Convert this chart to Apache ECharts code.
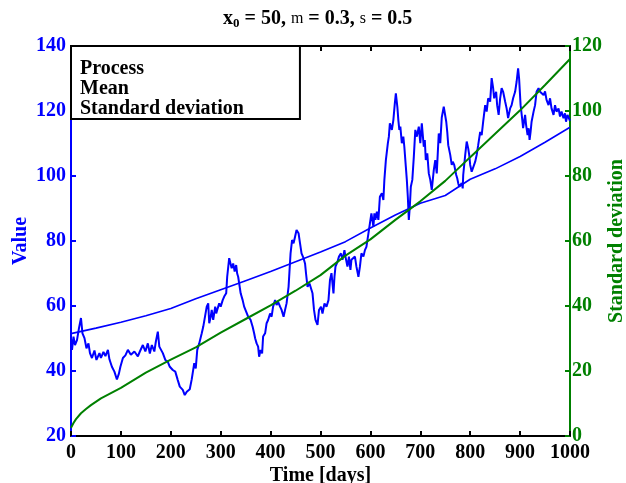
<!DOCTYPE html>
<html>
<head>
<meta charset="utf-8">
<title>Geometric Brownian motion</title>
<script src="https://cdn.jsdelivr.net/npm/echarts@6/dist/echarts.min.js"></script>
<style>
  html, body { margin: 0; padding: 0; background: #ffffff; }
  #chart { width: 626px; height: 483px; }
</style>
</head>
<body>
<div id="chart"></div>
<script>
// Simulated process path (day, value)
const processDays = [
  0, 2, 5, 8, 12, 16, 20, 23, 27, 31, 35, 38, 42, 47, 51, 57, 60, 65, 69, 74,
  77, 82, 87, 92, 96, 99, 104, 109, 114, 120, 127, 134, 138, 144, 149, 154, 158, 162, 167, 170,
  174, 177, 184, 189, 194, 198, 204, 209, 214, 218, 224, 228, 232, 238, 242, 247, 250, 253, 257, 262,
  265, 268, 272, 275, 277, 280, 282, 285, 289, 291, 293, 297, 300, 304, 307, 311, 313, 317, 320, 322,
  325, 328, 331, 333, 335, 337, 340, 344, 347, 351, 355, 360, 364, 367, 369, 372, 375, 377, 380, 383,
  385, 389, 392, 395, 399, 402, 405, 409, 412, 415, 419, 422, 426, 429, 432, 436, 438, 440, 443, 446,
  449, 452, 456, 459, 462, 466, 469, 471, 474, 478, 480, 484, 487, 490, 494, 497, 501, 504, 508, 512,
  516, 519, 522, 526, 528, 530, 534, 537, 541, 544, 548, 550, 554, 557, 560, 562, 566, 569, 572, 576,
  579, 582, 586, 589, 592, 596, 599, 602, 606, 608, 610, 613, 616, 619, 623, 626, 628, 631, 635, 637,
  639, 643, 646, 649, 651, 654, 656, 658, 660, 663, 666, 668, 671, 673, 675, 677, 679, 681, 684, 687,
  690, 693, 697, 700, 703, 707, 709, 711, 714, 717, 720, 723, 727, 730, 733, 737, 740, 743, 747, 750,
  752, 754, 756, 760, 763, 765, 768, 770, 772, 774, 776, 778, 781, 783, 785, 786, 790, 793, 796, 798,
  800, 803, 806, 810, 813, 816, 820, 823, 826, 830, 833, 836, 840, 843, 846, 848, 852, 854, 857, 860,
  863, 866, 870, 873, 876, 880, 883, 886, 890, 893, 896, 898, 901, 904, 906, 910, 912, 915, 917, 919,
  921, 923, 927, 930, 933, 937, 940, 943, 947, 950, 953, 957, 960, 963, 967, 970, 973, 977, 980, 983,
  987, 990, 992, 995, 1000
];
const processValues = [
  50.0, 46.5, 50.6, 48.0, 49.5, 53.2, 56.3, 51.6, 50.1, 47.0, 48.5, 45.5, 44.0, 46.3, 43.4, 45.5, 44.0, 45.9, 44.6, 46.5,
  43.6, 41.3, 39.8, 37.4, 39.2, 41.3, 44.0, 44.8, 46.5, 45.0, 46.0, 44.5, 46.0, 48.0, 46.0, 48.5, 45.4, 48.0, 46.0, 49.0,
  52.1, 47.5, 45.5, 43.4, 42.8, 41.3, 40.3, 39.8, 37.2, 35.2, 34.2, 32.6, 33.6, 34.4, 37.5, 42.4, 40.8, 46.5, 48.5, 51.6,
  53.6, 54.2, 59.8, 60.8, 54.7, 56.7, 58.8, 55.7, 59.8, 57.7, 58.8, 60.8, 59.8, 61.8, 62.9, 63.9, 69.0, 74.7, 74.2, 71.6,
  73.1, 70.6, 72.6, 70.0, 69.0, 67.0, 63.9, 61.8, 59.8, 58.3, 56.7, 55.7, 53.6, 51.6, 50.1, 48.5, 47.5, 44.4, 46.5, 45.4,
  50.6, 51.6, 54.7, 55.7, 57.7, 56.7, 59.8, 61.8, 60.3, 61.3, 59.8, 58.8, 56.7, 58.8, 60.8, 65.9, 71.1, 76.2, 80.3, 79.3,
  81.3, 83.4, 82.4, 79.3, 76.2, 74.7, 73.1, 70.0, 65.9, 66.9, 65.9, 63.9, 58.8, 55.7, 54.2, 58.8, 59.8, 57.7, 60.8, 59.8,
  61.8, 68.0, 70.1, 63.9, 69.0, 72.1, 73.6, 75.2, 76.2, 74.2, 77.2, 75.2, 72.1, 75.2, 71.1, 74.2, 73.6, 75.2, 72.1, 69.0,
  72.1, 76.2, 75.2, 77.2, 78.2, 82.3, 82.3, 88.5, 84.4, 88.5, 86.5, 89.0, 86.5, 93.6, 94.7, 92.6, 98.8, 104.9, 110.1, 112.1,
  116.2, 114.2, 117.2, 122.4, 125.4, 121.3, 117.2, 114.2, 115.2, 110.1, 112.1, 109.0, 102.9, 98.8, 93.6, 86.5, 90.6, 96.7, 98.8, 105.9,
  114.2, 112.1, 115.2, 110.1, 116.2, 109.0, 111.1, 104.9, 107.0, 100.8, 98.8, 95.7, 101.8, 104.9, 100.8, 113.1, 110.1, 118.0, 121.3, 121.8,
  116.7, 113.6, 109.5, 106.5, 103.4, 104.4, 103.4, 101.8, 100.3, 99.3, 97.8, 96.7, 96.2, 97.8, 96.2, 100.3, 106.5, 110.6, 108.5, 106.5,
  103.4, 101.3, 101.3, 104.4, 106.5, 109.5, 113.6, 112.6, 116.7, 121.8, 119.8, 123.9, 122.9, 130.1, 127.0, 123.9, 125.9, 121.8, 118.8, 123.9,
  127.0, 125.9, 122.9, 120.8, 117.8, 120.8, 121.8, 123.9, 125.9, 129.0, 133.1, 130.0, 121.8, 117.8, 114.7, 118.8, 115.7, 112.6, 114.7, 111.1,
  113.6, 116.7, 119.8, 121.8, 125.9, 127.0, 125.9, 126.5, 124.9, 126.0, 123.4, 121.8, 123.9, 120.8, 118.8, 121.8, 119.8, 120.8, 118.3, 119.8,
  117.8, 119.3, 116.7, 118.8, 117.0
];

// Theoretical mean (left axis)
const meanDays = [0, 50, 100, 150, 200, 250, 300, 350, 400, 450, 500, 550, 600, 650, 700, 750, 800, 850, 900, 950, 1000];
const meanValues = [51.5, 53.2, 55.0, 57.0, 59.2, 62.2, 65.0, 67.8, 70.6, 73.6, 76.6, 79.8, 84.0, 88.0, 91.6, 94.0, 99.0, 102.2, 106.0, 110.4, 115.0];

// Standard deviation (right axis)
const stdDays = [0, 5, 10, 20, 30, 40, 60, 80, 100, 150, 200, 250, 300, 350, 400, 450, 500, 550, 600, 650, 700, 750, 800, 850, 900, 950, 1000];
const stdValues = [2.5, 4.0, 5.2, 7.0, 8.3, 9.5, 11.6, 13.2, 14.8, 19.5, 23.5, 27.3, 31.8, 36.0, 40.2, 44.7, 49.5, 55.5, 60.5, 66.5, 72.2, 78.5, 85.8, 93.0, 100.2, 108.0, 116.0];

// Axis ticks
const xTicks = { min: 0, max: 1000, interval: 100 };
const yLeftTicks = { min: 20, max: 140, interval: 20 };
const yRightTicks = { min: 0, max: 120, interval: 20 };

const seriesNames = ['Process', 'Mean', 'Standard deviation'];

const FONT = '"Liberation Serif", "Times New Roman", serif';
const BLUE = '#0000ff';
const GREEN = '#008000';
const BLACK = '#000000';

const pairs = (xs, ys) => xs.map((x, i) => [x, ys[i]]);
const plain = (v) => String(v);

const labelStyle = (color) => ({
  color: color, fontFamily: FONT, fontWeight: 'bold', fontSize: 20
});

const chart = echarts.init(document.getElementById('chart'), null, { renderer: 'canvas' });

chart.setOption({
  animation: false,
  backgroundColor: '#ffffff',
  title: {
    left: 223,
    top: 8,
    padding: 0,
    text: '{b|x}{sub|0}{b| = 50, }{g|m}{b| = 0.3, }{g|s}{b| = 0.5}',
    textStyle: {
      rich: {
        b: { fontFamily: FONT, fontWeight: 'bold', fontSize: 20, color: BLACK },
        sub: { fontFamily: FONT, fontWeight: 'bold', fontSize: 13, color: BLACK, padding: [9, 0, 0, 0] },
        g: { fontFamily: FONT, fontWeight: 'normal', fontSize: 16, color: BLACK }
      }
    }
  },
  legend: {
    data: seriesNames,
    orient: 'vertical',
    left: 71,
    top: 46,
    icon: 'rect',
    itemWidth: 1,
    itemHeight: 20,
    itemGap: 0,
    selectedMode: false,
    itemStyle: { opacity: 0 },
    lineStyle: { opacity: 0 },
    padding: [13, 56, 0, 3],
    backgroundColor: '#ffffff',
    borderColor: BLACK,
    borderWidth: 2,
    textStyle: { color: BLACK, fontFamily: FONT, fontWeight: 'bold', fontSize: 20, lineHeight: 20 }
  },
  grid: { left: 71, right: 56, top: 46, bottom: 47, containLabel: false, outerBoundsMode: 'none' },
  xAxis: [
    {
      type: 'value',
      position: 'bottom',
      min: xTicks.min, max: xTicks.max, interval: xTicks.interval,
      axisLine: { show: true, onZero: false, lineStyle: { color: BLACK, width: 2 } },
      axisTick: { show: true, inside: true, length: 5, lineStyle: { color: BLACK, width: 2 } },
      axisLabel: Object.assign({ margin: 7, showMinLabel: true, showMaxLabel: true, formatter: plain }, labelStyle(BLACK)),
      splitLine: { show: false },
      name: 'Time [days]',
      nameLocation: 'middle',
      nameMoveOverlap: false,
      nameGap: 30,
      nameTextStyle: labelStyle(BLACK)
    },
    {
      type: 'value',
      position: 'top',
      min: xTicks.min, max: xTicks.max, interval: xTicks.interval,
      axisLine: { show: true, onZero: false, lineStyle: { color: BLACK, width: 2 } },
      axisTick: { show: true, inside: true, length: 5, lineStyle: { color: BLACK, width: 2 } },
      axisLabel: { show: false },
      splitLine: { show: false }
    }
  ],
  yAxis: [
    {
      type: 'value',
      position: 'left',
      min: yLeftTicks.min, max: yLeftTicks.max, interval: yLeftTicks.interval,
      axisLine: { show: true, onZero: false, lineStyle: { color: BLUE, width: 2 } },
      axisTick: { show: true, inside: true, length: 5, lineStyle: { color: BLUE, width: 2 } },
      axisLabel: Object.assign({ margin: 5, showMinLabel: true, showMaxLabel: true, formatter: plain }, labelStyle(BLUE)),
      splitLine: { show: false },
      name: 'Value',
      nameLocation: 'middle',
      nameMoveOverlap: false,
      nameRotate: 90,
      nameGap: 40,
      nameTextStyle: labelStyle(BLUE)
    },
    {
      type: 'value',
      position: 'right',
      min: yRightTicks.min, max: yRightTicks.max, interval: yRightTicks.interval,
      axisLine: { show: true, onZero: false, lineStyle: { color: GREEN, width: 2 } },
      axisTick: { show: true, inside: true, length: 5, lineStyle: { color: GREEN, width: 2 } },
      axisLabel: Object.assign({ margin: 2, showMinLabel: true, showMaxLabel: true, formatter: plain }, labelStyle(GREEN)),
      splitLine: { show: false },
      name: 'Standard deviation',
      nameLocation: 'middle',
      nameMoveOverlap: false,
      nameRotate: 90,
      nameGap: 37,
      nameTextStyle: labelStyle(GREEN)
    }
  ],
  series: [
    {
      name: seriesNames[0],
      type: 'line',
      xAxisIndex: 0,
      yAxisIndex: 0,
      data: pairs(processDays, processValues),
      showSymbol: false,
      symbol: 'none',
      lineStyle: { color: BLUE, width: 2 },
      itemStyle: { color: BLUE }
    },
    {
      name: seriesNames[1],
      type: 'line',
      xAxisIndex: 0,
      yAxisIndex: 0,
      data: pairs(meanDays, meanValues),
      showSymbol: false,
      symbol: 'none',
      lineStyle: { color: BLUE, width: 1.6 },
      itemStyle: { color: BLUE }
    },
    {
      name: seriesNames[2],
      type: 'line',
      xAxisIndex: 0,
      yAxisIndex: 1,
      data: pairs(stdDays, stdValues),
      showSymbol: false,
      symbol: 'none',
      lineStyle: { color: GREEN, width: 2 },
      itemStyle: { color: GREEN }
    }
  ]
});
</script>
</body>
</html>
